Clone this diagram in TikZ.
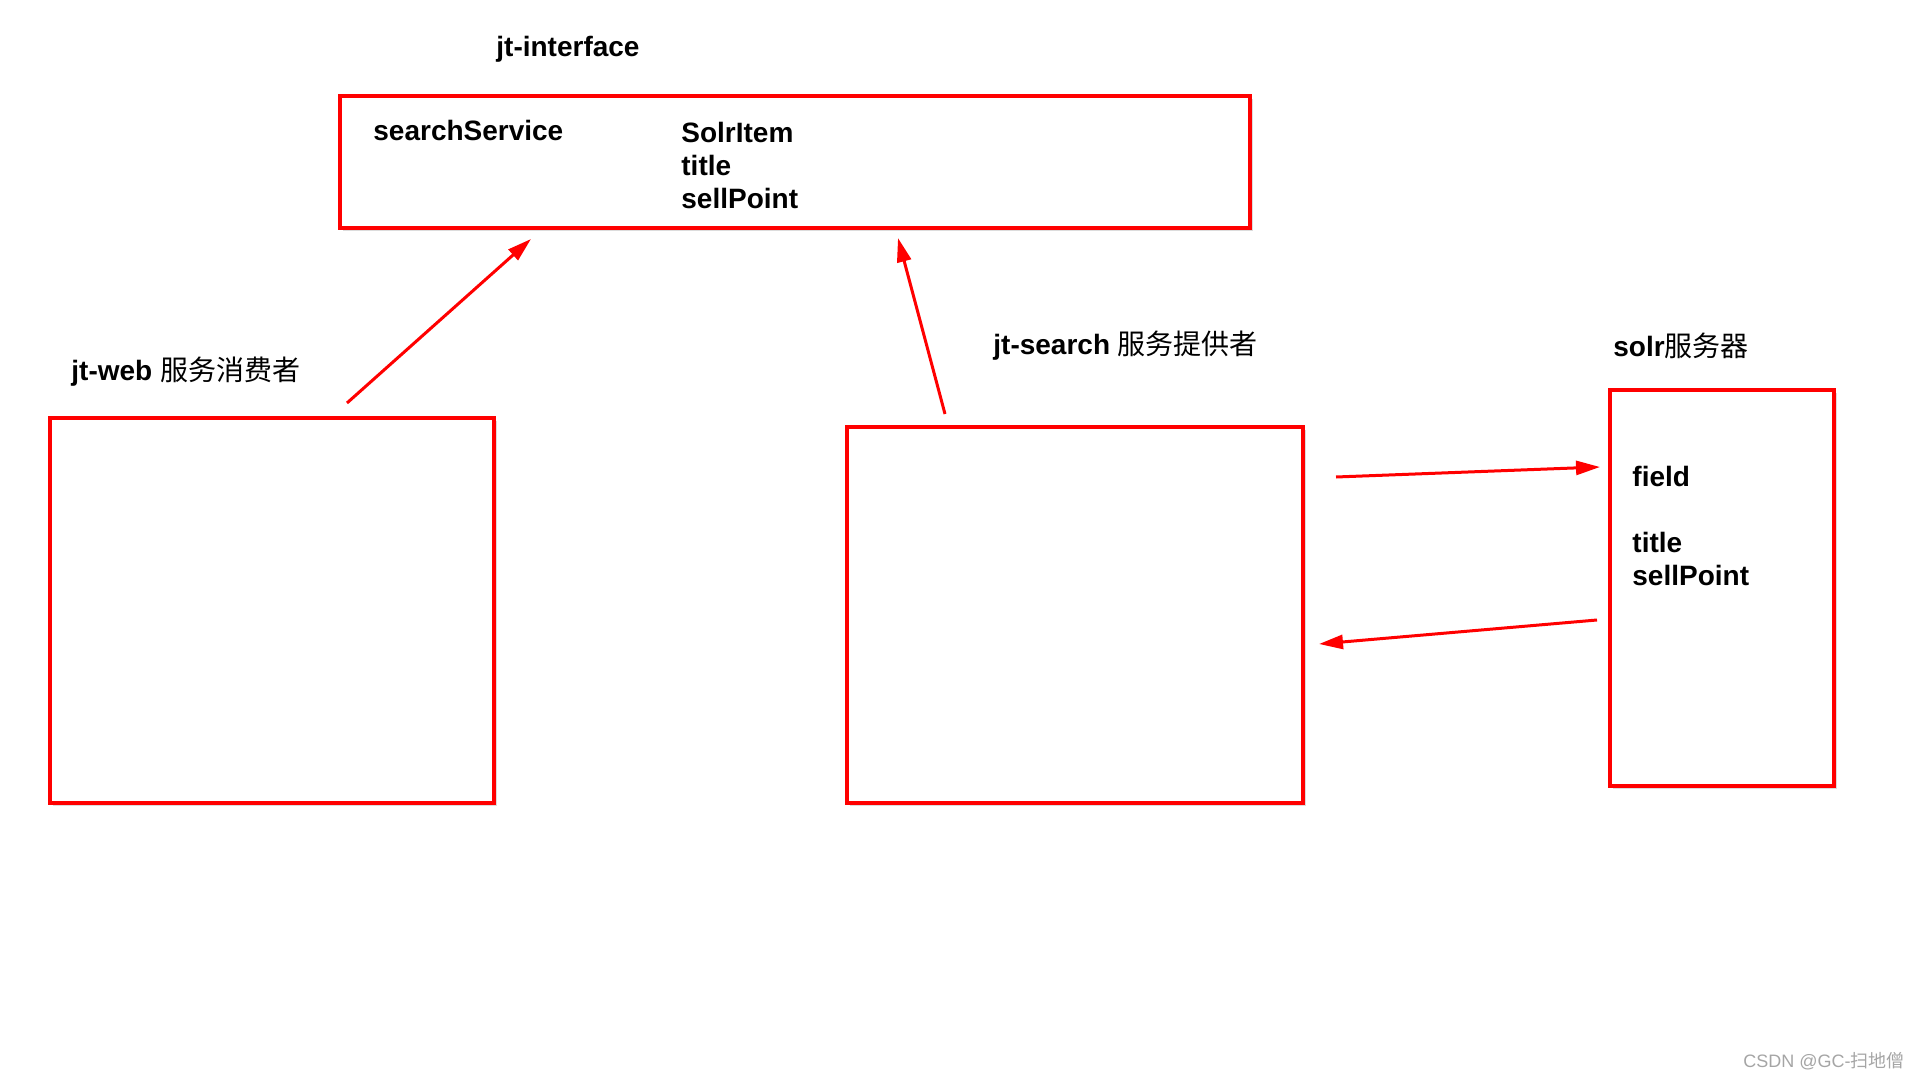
\documentclass[tikz,border=0pt]{standalone}
\usepackage{fontspec}
\setmainfont{Liberation Sans}
\newfontfamily\cjk{Noto Sans CJK SC}
\usetikzlibrary{arrows.meta,shadows}
\definecolor{boxred}{RGB}{255,0,0}
\definecolor{wmgrey}{RGB}{165,165,165}
\tikzset{
  redbox/.style={draw=boxred, line width=2pt, fill=white, inner sep=0pt, anchor=north west,
    drop shadow={opacity=0.3, shadow xshift=1.5pt, shadow yshift=-1.5pt, fill=black!45}},
  lbl/.style={font=\fontsize{14}{16.5}\selectfont\bfseries, inner sep=0pt, anchor=west, align=left},
  redarrow/.style={draw=boxred, line width=1.5pt, -{Triangle[length=12pt,width=7pt]}},
}
\newcommand{\cjktext}[1]{{\fontsize{14}{16}\selectfont\cjk\mdseries #1}}
\begin{document}
\begin{tikzpicture}[x=0.5pt,y=-0.5pt]
\useasboundingbox (0,0) rectangle (1920,1080);
% boxes
\node[redbox, minimum width=455pt, minimum height=66pt] (iface) at (338,94) {};
\node[redbox, minimum width=222pt, minimum height=192.5pt] (web) at (48,416) {};
\node[redbox, minimum width=228pt, minimum height=188pt] (search) at (845,425) {};
\node[redbox, minimum width=112pt, minimum height=198pt] (solr) at (1608,388) {};
% labels
\node[lbl] (ifacetitle) at (496,49) {jt-interface};
\node[lbl] (svc) at (373,130) {searchService};
\node[lbl] (item) at (681,165) {SolrItem\\title\\sellPoint};
\node[lbl] (webtitle) at (71,372) {jt-web \cjktext{服务消费者}};
\node[lbl] (searchtitle) at (993,346) {jt-search \cjktext{服务提供者}};
\node[lbl] (solrtitle) at (1613,346) {solr\cjktext{服务器}};
\node[lbl] (fields) at (1632,526) {field\\\mbox{}\\title\\sellPoint};
% watermark
\node[inner sep=0pt, anchor=east, text=wmgrey, font=\fontsize{9}{10}\selectfont] (wm) at (1905,1061) {CSDN @GC-{\cjk 扫地僧}};
% connector end points
\coordinate (a1s) at (347,403);
\coordinate (a1e) at (531,239);
\coordinate (a2s) at (945,414);
\coordinate (a2e) at (898,238);
\coordinate (a3s) at (1336,477);
\coordinate (a3e) at (1600,467);
\coordinate (a4s) at (1597,620);
\coordinate (a4e) at (1319,644);
% connectors
\draw[redarrow] (a1s) -- (a1e);
\draw[redarrow] (a2s) -- (a2e);
\draw[redarrow] (a3s) -- (a3e);
\draw[redarrow] (a4s) -- (a4e);
\end{tikzpicture}
\end{document}
